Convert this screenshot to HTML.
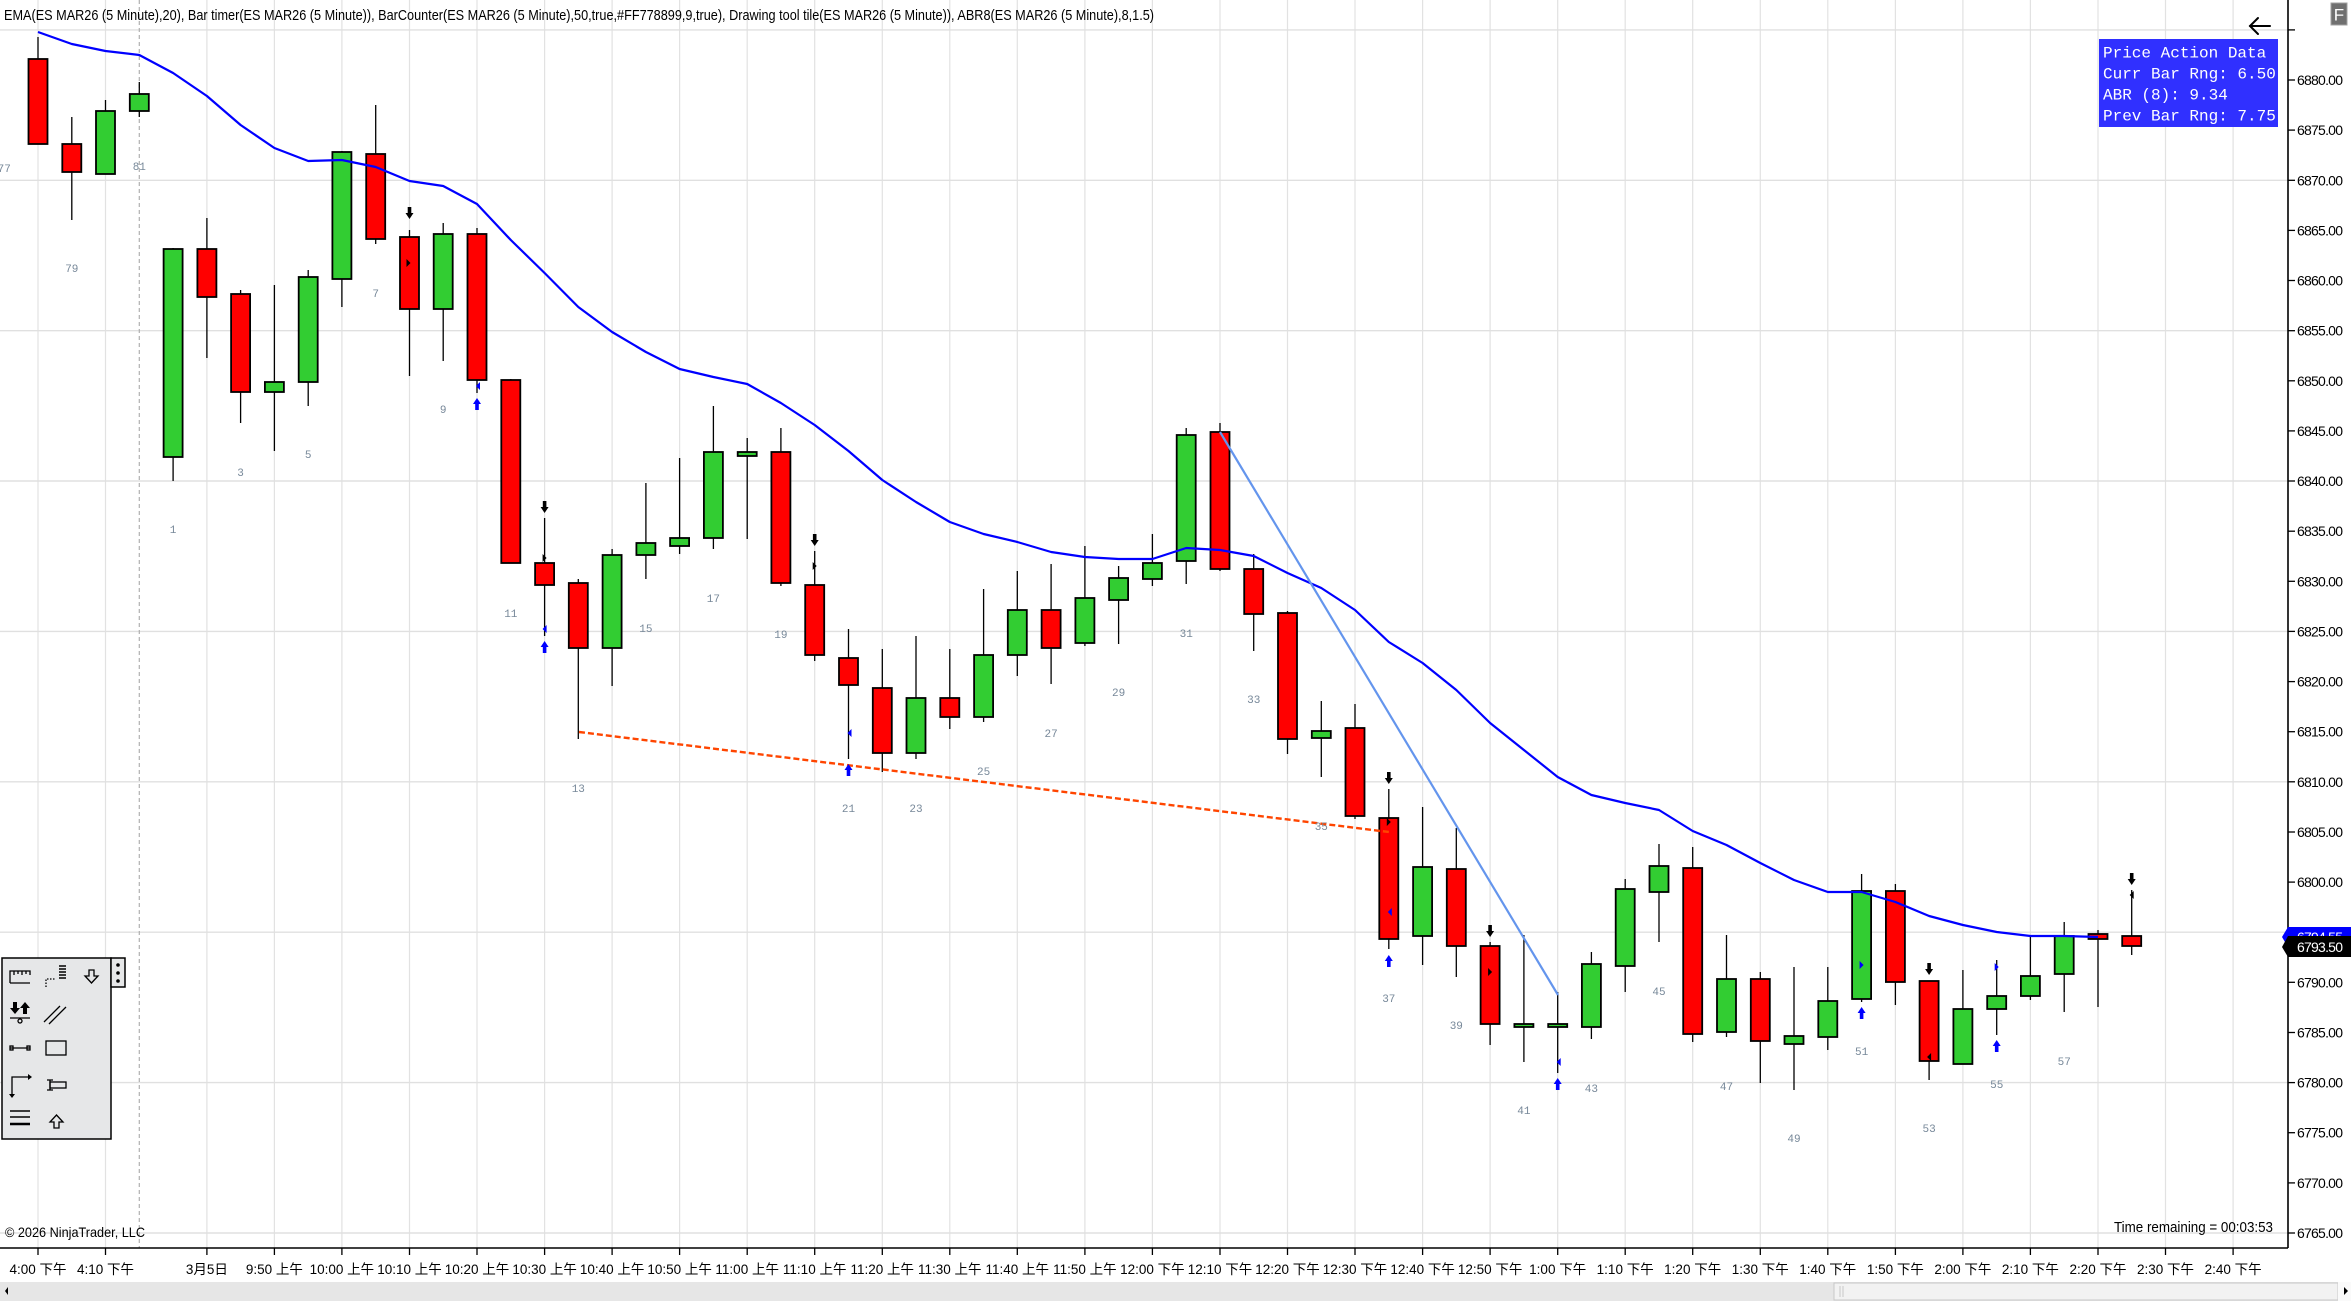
<!DOCTYPE html>
<html><head><meta charset="utf-8"><style>
html,body{margin:0;padding:0;background:#fff;}
svg{display:block;}
.t{font-family:"Liberation Sans","Noto Sans CJK SC",sans-serif;}
.m{font-family:"Liberation Mono",monospace;}
</style></head><body>
<svg width="2351" height="1301" viewBox="0 0 2351 1301" xmlns="http://www.w3.org/2000/svg">
<rect width="2351" height="1301" fill="#fff"/>
<!-- vertical gridlines -->
<g stroke="#e2e2e2" stroke-width="1.2">
<line x1="38" y1="0" x2="38" y2="1248"/><line x1="105.5" y1="0" x2="105.5" y2="1248"/>
<line x1="206.9" y1="0" x2="206.9" y2="1248"/><line x1="274.4" y1="0" x2="274.4" y2="1248"/>
<line x1="341.9" y1="0" x2="341.9" y2="1248"/><line x1="409.5" y1="0" x2="409.5" y2="1248"/>
<line x1="477" y1="0" x2="477" y2="1248"/><line x1="544.6" y1="0" x2="544.6" y2="1248"/>
<line x1="612.1" y1="0" x2="612.1" y2="1248"/><line x1="679.6" y1="0" x2="679.6" y2="1248"/>
<line x1="747.2" y1="0" x2="747.2" y2="1248"/><line x1="814.7" y1="0" x2="814.7" y2="1248"/>
<line x1="882.3" y1="0" x2="882.3" y2="1248"/><line x1="949.8" y1="0" x2="949.8" y2="1248"/>
<line x1="1017.3" y1="0" x2="1017.3" y2="1248"/><line x1="1084.9" y1="0" x2="1084.9" y2="1248"/>
<line x1="1152.4" y1="0" x2="1152.4" y2="1248"/><line x1="1220" y1="0" x2="1220" y2="1248"/>
<line x1="1287.5" y1="0" x2="1287.5" y2="1248"/><line x1="1355" y1="0" x2="1355" y2="1248"/>
<line x1="1422.6" y1="0" x2="1422.6" y2="1248"/><line x1="1490.1" y1="0" x2="1490.1" y2="1248"/>
<line x1="1557.7" y1="0" x2="1557.7" y2="1248"/><line x1="1625.2" y1="0" x2="1625.2" y2="1248"/>
<line x1="1692.7" y1="0" x2="1692.7" y2="1248"/><line x1="1760.3" y1="0" x2="1760.3" y2="1248"/>
<line x1="1827.8" y1="0" x2="1827.8" y2="1248"/><line x1="1895.4" y1="0" x2="1895.4" y2="1248"/>
<line x1="1962.9" y1="0" x2="1962.9" y2="1248"/><line x1="2030.4" y1="0" x2="2030.4" y2="1248"/>
<line x1="2098" y1="0" x2="2098" y2="1248"/><line x1="2165.5" y1="0" x2="2165.5" y2="1248"/>
<line x1="2233.1" y1="0" x2="2233.1" y2="1248"/>
</g>
<!-- horizontal gridlines -->
<g stroke="#e0e0e0" stroke-width="1.4">
<line x1="0" y1="29.9" x2="2288" y2="29.9"/><line x1="0" y1="180.3" x2="2288" y2="180.3"/>
<line x1="0" y1="330.7" x2="2288" y2="330.7"/><line x1="0" y1="481" x2="2288" y2="481"/>
<line x1="0" y1="631.4" x2="2288" y2="631.4"/><line x1="0" y1="781.8" x2="2288" y2="781.8"/>
<line x1="0" y1="932.2" x2="2288" y2="932.2"/><line x1="0" y1="1082.6" x2="2288" y2="1082.6"/>
<line x1="0" y1="1233" x2="2288" y2="1233"/>
</g>
<!-- session break -->
<line x1="139.3" y1="0" x2="139.3" y2="1248" stroke="#b0b0b0" stroke-width="1.2" stroke-dasharray="4,3"/>

<!-- title -->
<text class="t" x="4" y="20" font-size="15" fill="#000" textLength="1150" lengthAdjust="spacingAndGlyphs">EMA(ES MAR26 (5 Minute),20), Bar timer(ES MAR26 (5 Minute)), BarCounter(ES MAR26 (5 Minute),50,true,#FF778899,9,true), Drawing tool tile(ES MAR26 (5 Minute)), ABR8(ES MAR26 (5 Minute),8,1.5)</text>

<!-- wicks -->
<g stroke="#000" stroke-width="1.3">
<line x1="38" y1="37" x2="38" y2="144"/>
<line x1="71.8" y1="117" x2="71.8" y2="220"/>
<line x1="105.5" y1="100" x2="105.5" y2="174"/>
<line x1="139.3" y1="82" x2="139.3" y2="117"/>
<line x1="173.1" y1="248" x2="173.1" y2="481"/>
<line x1="206.9" y1="218" x2="206.9" y2="358"/>
<line x1="240.6" y1="290" x2="240.6" y2="423"/>
<line x1="274.4" y1="285" x2="274.4" y2="451"/>
<line x1="308.2" y1="270" x2="308.2" y2="406"/>
<line x1="341.9" y1="151" x2="341.9" y2="307"/>
<line x1="375.7" y1="105" x2="375.7" y2="244"/>
<line x1="409.5" y1="230" x2="409.5" y2="376"/>
<line x1="443.2" y1="223" x2="443.2" y2="361"/>
<line x1="477" y1="228" x2="477" y2="393"/>
<line x1="510.8" y1="379" x2="510.8" y2="563"/>
<line x1="544.6" y1="518" x2="544.6" y2="636"/>
<line x1="578.3" y1="579" x2="578.3" y2="739"/>
<line x1="612.1" y1="549" x2="612.1" y2="686"/>
<line x1="645.9" y1="483" x2="645.9" y2="579"/>
<line x1="679.6" y1="458" x2="679.6" y2="554"/>
<line x1="713.4" y1="406" x2="713.4" y2="549"/>
<line x1="747.2" y1="438" x2="747.2" y2="539"/>
<line x1="780.9" y1="428" x2="780.9" y2="586"/>
<line x1="814.7" y1="551" x2="814.7" y2="661"/>
<line x1="848.5" y1="629" x2="848.5" y2="759"/>
<line x1="882.3" y1="649" x2="882.3" y2="772"/>
<line x1="916" y1="636" x2="916" y2="759"/>
<line x1="949.8" y1="649" x2="949.8" y2="729"/>
<line x1="983.6" y1="589" x2="983.6" y2="722"/>
<line x1="1017.3" y1="571" x2="1017.3" y2="676"/>
<line x1="1051.1" y1="564" x2="1051.1" y2="684"/>
<line x1="1084.9" y1="546" x2="1084.9" y2="646"/>
<line x1="1118.6" y1="566" x2="1118.6" y2="644"/>
<line x1="1152.4" y1="534" x2="1152.4" y2="586"/>
<line x1="1186.2" y1="428" x2="1186.2" y2="584"/>
<line x1="1220" y1="423" x2="1220" y2="571"/>
<line x1="1253.7" y1="554" x2="1253.7" y2="651"/>
<line x1="1287.5" y1="611" x2="1287.5" y2="754"/>
<line x1="1321.3" y1="701" x2="1321.3" y2="777"/>
<line x1="1355" y1="704" x2="1355" y2="819"/>
<line x1="1388.8" y1="789" x2="1388.8" y2="949"/>
<line x1="1422.6" y1="807" x2="1422.6" y2="965"/>
<line x1="1456.3" y1="828" x2="1456.3" y2="977"/>
<line x1="1490.1" y1="942" x2="1490.1" y2="1045"/>
<line x1="1523.9" y1="935" x2="1523.9" y2="1062"/>
<line x1="1557.7" y1="992" x2="1557.7" y2="1073"/>
<line x1="1591.4" y1="952" x2="1591.4" y2="1039"/>
<line x1="1625.2" y1="879" x2="1625.2" y2="992"/>
<line x1="1659" y1="844" x2="1659" y2="942"/>
<line x1="1692.7" y1="847" x2="1692.7" y2="1042"/>
<line x1="1726.5" y1="935" x2="1726.5" y2="1037"/>
<line x1="1760.3" y1="972" x2="1760.3" y2="1083"/>
<line x1="1794" y1="967" x2="1794" y2="1090"/>
<line x1="1827.8" y1="967" x2="1827.8" y2="1050"/>
<line x1="1861.6" y1="874" x2="1861.6" y2="1002"/>
<line x1="1895.4" y1="884" x2="1895.4" y2="1005"/>
<line x1="1929.1" y1="981" x2="1929.1" y2="1080"/>
<line x1="1962.9" y1="970" x2="1962.9" y2="1064"/>
<line x1="1996.7" y1="960" x2="1996.7" y2="1035"/>
<line x1="2030.4" y1="936" x2="2030.4" y2="1000"/>
<line x1="2064.2" y1="922" x2="2064.2" y2="1012"/>
<line x1="2098" y1="930" x2="2098" y2="1007"/>
<line x1="2131.7" y1="890" x2="2131.7" y2="955"/>
</g>
<!-- bodies -->
<g stroke="#000" stroke-width="1.8">
<rect x="28.5" y="59" width="19" height="85" fill="#ff0000"/>
<rect x="62.3" y="144" width="19" height="28" fill="#ff0000"/>
<rect x="96" y="111" width="19" height="63" fill="#32cd32"/>
<rect x="129.8" y="94" width="19" height="17" fill="#32cd32"/>
<rect x="163.6" y="249" width="19" height="208" fill="#32cd32"/>
<rect x="197.4" y="249" width="19" height="48" fill="#ff0000"/>
<rect x="231.1" y="294" width="19" height="98" fill="#ff0000"/>
<rect x="264.9" y="382" width="19" height="10" fill="#32cd32"/>
<rect x="298.7" y="277" width="19" height="105" fill="#32cd32"/>
<rect x="332.4" y="152" width="19" height="127" fill="#32cd32"/>
<rect x="366.2" y="154" width="19" height="85" fill="#ff0000"/>
<rect x="400" y="237" width="19" height="72" fill="#ff0000"/>
<rect x="433.7" y="234" width="19" height="75" fill="#32cd32"/>
<rect x="467.5" y="234" width="19" height="146" fill="#ff0000"/>
<rect x="501.3" y="380" width="19" height="183" fill="#ff0000"/>
<rect x="535.1" y="563" width="19" height="22" fill="#ff0000"/>
<rect x="568.8" y="583" width="19" height="65" fill="#ff0000"/>
<rect x="602.6" y="555" width="19" height="93" fill="#32cd32"/>
<rect x="636.4" y="543" width="19" height="12" fill="#32cd32"/>
<rect x="670.1" y="538" width="19" height="8" fill="#32cd32"/>
<rect x="703.9" y="452" width="19" height="86" fill="#32cd32"/>
<rect x="737.7" y="452" width="19" height="4" fill="#32cd32"/>
<rect x="771.4" y="452" width="19" height="131" fill="#ff0000"/>
<rect x="805.2" y="585" width="19" height="70" fill="#ff0000"/>
<rect x="839" y="658" width="19" height="27" fill="#ff0000"/>
<rect x="872.8" y="688" width="19" height="65" fill="#ff0000"/>
<rect x="906.5" y="698" width="19" height="55" fill="#32cd32"/>
<rect x="940.3" y="698" width="19" height="19" fill="#ff0000"/>
<rect x="974.1" y="655" width="19" height="62" fill="#32cd32"/>
<rect x="1007.8" y="610" width="19" height="45" fill="#32cd32"/>
<rect x="1041.6" y="610" width="19" height="38" fill="#ff0000"/>
<rect x="1075.4" y="598" width="19" height="45" fill="#32cd32"/>
<rect x="1109.1" y="578" width="19" height="22" fill="#32cd32"/>
<rect x="1142.9" y="563" width="19" height="16" fill="#32cd32"/>
<rect x="1176.7" y="435" width="19" height="126" fill="#32cd32"/>
<rect x="1210.5" y="432" width="19" height="137" fill="#ff0000"/>
<rect x="1244.2" y="569" width="19" height="45" fill="#ff0000"/>
<rect x="1278" y="613" width="19" height="126" fill="#ff0000"/>
<rect x="1311.8" y="731" width="19" height="7" fill="#32cd32"/>
<rect x="1345.5" y="728" width="19" height="88" fill="#ff0000"/>
<rect x="1379.3" y="818" width="19" height="121" fill="#ff0000"/>
<rect x="1413.1" y="867" width="19" height="69" fill="#32cd32"/>
<rect x="1446.8" y="869" width="19" height="77" fill="#ff0000"/>
<rect x="1480.6" y="946" width="19" height="78" fill="#ff0000"/>
<rect x="1514.4" y="1024" width="19" height="3" fill="#32cd32"/>
<rect x="1548.2" y="1024" width="19" height="3" fill="#32cd32"/>
<rect x="1581.9" y="964" width="19" height="63" fill="#32cd32"/>
<rect x="1615.7" y="889" width="19" height="77" fill="#32cd32"/>
<rect x="1649.5" y="866" width="19" height="26" fill="#32cd32"/>
<rect x="1683.2" y="868" width="19" height="166" fill="#ff0000"/>
<rect x="1717" y="979" width="19" height="53" fill="#32cd32"/>
<rect x="1750.8" y="979" width="19" height="62" fill="#ff0000"/>
<rect x="1784.5" y="1036" width="19" height="8" fill="#32cd32"/>
<rect x="1818.3" y="1001" width="19" height="36" fill="#32cd32"/>
<rect x="1852.1" y="891" width="19" height="108" fill="#32cd32"/>
<rect x="1885.9" y="891" width="19" height="91" fill="#ff0000"/>
<rect x="1919.6" y="981" width="19" height="80" fill="#ff0000"/>
<rect x="1953.4" y="1009" width="19" height="55" fill="#32cd32"/>
<rect x="1987.2" y="996" width="19" height="13" fill="#32cd32"/>
<rect x="2020.9" y="976" width="19" height="20" fill="#32cd32"/>
<rect x="2054.7" y="936" width="19" height="38" fill="#32cd32"/>
<rect x="2088.5" y="934" width="19" height="5" fill="#ff0000"/>
<rect x="2122.2" y="936" width="19" height="10" fill="#ff0000"/>
</g>

<!-- EMA -->
<polyline fill="none" stroke="#0000ff" stroke-width="2.2" stroke-linejoin="round" points="38,32 71.8,44 105.5,51 139.3,55 173.1,73 206.9,96 240.6,125 274.4,148 308.2,161 341.9,160 375.7,167 409.5,181 443.2,186 477,204 510.8,240 544.6,273 578.3,307 612.1,332 645.9,352 679.6,369 713.4,377 747.2,384 780.9,403 814.7,425 848.5,451 882.3,480 916,502 949.8,522 983.6,534 1017.3,542 1051.1,552 1084.9,557 1118.6,559 1152.4,559 1186.2,548 1220,550 1253.7,556 1287.5,573 1321.3,588 1355,610 1388.8,642 1422.6,663 1456.3,690 1490.1,723 1523.9,750 1557.7,777 1591.4,795 1625.2,803 1659,810 1692.7,831 1726.5,845 1760.3,863 1794,880 1827.8,892 1861.6,892 1895.4,902 1929.1,916 1962.9,925 1996.7,932 2030.4,936 2064.2,936 2098,937"/>

<!-- drawings -->
<line x1="579" y1="732" x2="1389" y2="832" stroke="#ff4500" stroke-width="2.4" stroke-dasharray="6,3"/>
<line x1="1220" y1="432" x2="1558" y2="995" stroke="#6495ed" stroke-width="2.2"/>

<!-- black down arrows -->
<g fill="#000">
<path d="M407.7 207h3.6v6h2.2l-4 6l-4-6h2.2z"/>
<path d="M542.8 501h3.6v6h2.2l-4 6l-4-6h2.2z"/>
<path d="M812.9 534h3.6v6h2.2l-4 6l-4-6h2.2z"/>
<path d="M1387 772h3.6v6h2.2l-4 6l-4-6h2.2z"/>
<path d="M1488.3 925h3.6v6h2.2l-4 6l-4-6h2.2z"/>
<path d="M1927.3 963h3.6v6h2.2l-4 6l-4-6h2.2z"/>
<path d="M2129.9 873h3.6v6h2.2l-4 6l-4-6h2.2z"/>
<!-- small black triangles -->
<path d="M406.5 259l4 4l-4 4z"/>
<path d="M542.6 554l4 4l-4 4z"/>
<path d="M812.7 562l4 4l-4 4z"/>
<path d="M1386.8 818l4 4l-4 4z"/>
<path d="M1488.1 968l4 4l-4 4z"/>
<path d="M1931.1 1053l-4 4l4 4z"/>
<path d="M2133.7 891l-4 4l4 4z"/>
</g>
<!-- blue up arrows -->
<g fill="#0000ff">
<path d="M475.2 410h3.6v-6h2.2l-4-6l-4 6h2.2z"/>
<path d="M542.8 653h3.6v-6h2.2l-4-6l-4 6h2.2z"/>
<path d="M846.7 776h3.6v-6h2.2l-4-6l-4 6h2.2z"/>
<path d="M1387 967h3.6v-6h2.2l-4-6l-4 6h2.2z"/>
<path d="M1555.9 1090h3.6v-6h2.2l-4-6l-4 6h2.2z"/>
<path d="M1859.8 1019h3.6v-6h2.2l-4-6l-4 6h2.2z"/>
<path d="M1994.9 1052h3.6v-6h2.2l-4-6l-4 6h2.2z"/>
<!-- small blue triangles -->
<path d="M480 382l-4 4l4 4z"/>
<path d="M546.6 625l-4 4l4 4z"/>
<path d="M851.5 729l-4 4l4 4z"/>
<path d="M1391.8 908l-4 4l4 4z"/>
<path d="M1560.7 1058l-4 4l4 4z"/>
<path d="M1859.6 961l4 4l-4 4z"/>
<path d="M1994.7 963l4 4l-4 4z"/>
</g>

<!-- bar counter labels -->
<g class="m" font-size="11" fill="#778899" text-anchor="middle">
<text x="4.2" y="172">77</text>
<text x="71.8" y="272">79</text>
<text x="139.3" y="170">81</text>
<text x="173.1" y="533">1</text>
<text x="240.6" y="476">3</text>
<text x="308.2" y="458">5</text>
<text x="375.7" y="297">7</text>
<text x="443.2" y="413">9</text>
<text x="510.8" y="617">11</text>
<text x="578.3" y="792">13</text>
<text x="645.9" y="632">15</text>
<text x="713.4" y="602">17</text>
<text x="780.9" y="638">19</text>
<text x="848.5" y="812">21</text>
<text x="916" y="812">23</text>
<text x="983.6" y="775">25</text>
<text x="1051.1" y="737">27</text>
<text x="1118.6" y="696">29</text>
<text x="1186.2" y="637">31</text>
<text x="1253.7" y="703">33</text>
<text x="1321.3" y="830">35</text>
<text x="1388.8" y="1002">37</text>
<text x="1456.3" y="1029">39</text>
<text x="1523.9" y="1114">41</text>
<text x="1591.4" y="1092">43</text>
<text x="1659" y="995">45</text>
<text x="1726.5" y="1090">47</text>
<text x="1794" y="1142">49</text>
<text x="1861.6" y="1055">51</text>
<text x="1929.1" y="1132">53</text>
<text x="1996.7" y="1088">55</text>
<text x="2064.2" y="1065">57</text>
</g>

<!-- Price action box -->
<rect x="2099" y="39" width="179" height="88" fill="#3030ff"/>
<g class="m" font-size="16" fill="#fff">
<text x="2103" y="57.5">Price Action Data</text>
<text x="2103" y="78.5">Curr Bar Rng: 6.50</text>
<text x="2103" y="99.5">ABR (8): 9.34</text>
<text x="2103" y="120.5">Prev Bar Rng: 7.75</text>
</g>
<!-- back arrow -->
<g stroke="#000" stroke-width="2" fill="none" stroke-linecap="round">
<line x1="2250" y1="26" x2="2270" y2="26"/>
<polyline points="2258,18 2250,26 2258,34"/>
</g>

<!-- toolbar -->
<rect x="2" y="958" width="109" height="181" fill="#e6e7e8" stroke="#000" stroke-width="1.5"/>
<rect x="111" y="958" width="14" height="29" fill="#e6e7e8" stroke="#000" stroke-width="1.5"/>
<g fill="#000"><circle cx="118" cy="965" r="1.8"/><circle cx="118" cy="973" r="1.8"/><circle cx="118" cy="981" r="1.8"/></g>
<g stroke="#000" stroke-width="1.3" fill="none">
<path d="M10 983V971H30V975M14 971v4M18 971v3M22 971v4M26 971v3M10 983H30"/>
<path d="M46 987v-8h10" stroke-dasharray="1.5,1.5"/>
<path d="M59 969h7M59 972h7M59 975h7M59 978h7M59 966h7" stroke-width="1.6"/>
<path d="M89 970h5v6h4l-6.5 7l-6.5-7h4z"/>
<path d="M10 1018H30"/>
<circle cx="20" cy="1021" r="2"/>
<path d="M44 1022L60 1006M49 1024L66 1007"/>
<path d="M10 1048H30"/>
<rect x="10" y="1046" width="3" height="4"/><rect x="27" y="1046" width="3" height="4"/>
<rect x="46" y="1041" width="20" height="14"/>
<path d="M12 1094V1077H29"/>
<rect x="50" y="1082" width="16" height="6"/>
<path d="M50 1080v10M47 1080h6M47 1090h6"/>
<path d="M10 1111H30M10 1117H30" stroke-width="1.5"/>
<path d="M10 1124H30" stroke-width="2.5"/>
<path d="M54 1128v-6h-4l6.5-7l6.5 7h-4v6z"/>
</g>
<g fill="#000">
<path d="M13 1002h4v6h3l-5 6l-5-6h3z"/>
<path d="M23 1014h4v-6h3l-5-6l-5 6h3z"/>
<path d="M9 1094l3 4l3-4z"/>
<path d="M28 1074l4 3l-4 3z"/>
</g>

<!-- axes -->
<line x1="0" y1="1248" x2="2288" y2="1248" stroke="#000" stroke-width="1.6"/>
<line x1="2288" y1="0" x2="2288" y2="1248" stroke="#000" stroke-width="1.6"/>
<g stroke="#000" stroke-width="1.3">
<line x1="38" y1="1248" x2="38" y2="1255"/><line x1="105.5" y1="1248" x2="105.5" y2="1255"/>
<line x1="206.9" y1="1248" x2="206.9" y2="1255"/><line x1="274.4" y1="1248" x2="274.4" y2="1255"/>
<line x1="341.9" y1="1248" x2="341.9" y2="1255"/><line x1="409.5" y1="1248" x2="409.5" y2="1255"/>
<line x1="477" y1="1248" x2="477" y2="1255"/><line x1="544.6" y1="1248" x2="544.6" y2="1255"/>
<line x1="612.1" y1="1248" x2="612.1" y2="1255"/><line x1="679.6" y1="1248" x2="679.6" y2="1255"/>
<line x1="747.2" y1="1248" x2="747.2" y2="1255"/><line x1="814.7" y1="1248" x2="814.7" y2="1255"/>
<line x1="882.3" y1="1248" x2="882.3" y2="1255"/><line x1="949.8" y1="1248" x2="949.8" y2="1255"/>
<line x1="1017.3" y1="1248" x2="1017.3" y2="1255"/><line x1="1084.9" y1="1248" x2="1084.9" y2="1255"/>
<line x1="1152.4" y1="1248" x2="1152.4" y2="1255"/><line x1="1220" y1="1248" x2="1220" y2="1255"/>
<line x1="1287.5" y1="1248" x2="1287.5" y2="1255"/><line x1="1355" y1="1248" x2="1355" y2="1255"/>
<line x1="1422.6" y1="1248" x2="1422.6" y2="1255"/><line x1="1490.1" y1="1248" x2="1490.1" y2="1255"/>
<line x1="1557.7" y1="1248" x2="1557.7" y2="1255"/><line x1="1625.2" y1="1248" x2="1625.2" y2="1255"/>
<line x1="1692.7" y1="1248" x2="1692.7" y2="1255"/><line x1="1760.3" y1="1248" x2="1760.3" y2="1255"/>
<line x1="1827.8" y1="1248" x2="1827.8" y2="1255"/><line x1="1895.4" y1="1248" x2="1895.4" y2="1255"/>
<line x1="1962.9" y1="1248" x2="1962.9" y2="1255"/><line x1="2030.4" y1="1248" x2="2030.4" y2="1255"/>
<line x1="2098" y1="1248" x2="2098" y2="1255"/><line x1="2165.5" y1="1248" x2="2165.5" y2="1255"/>
<line x1="2233.1" y1="1248" x2="2233.1" y2="1255"/>
<!-- y ticks -->
<line x1="2288" y1="29.9" x2="2295" y2="29.9"/><line x1="2288" y1="80" x2="2295" y2="80"/>
<line x1="2288" y1="130.1" x2="2295" y2="130.1"/><line x1="2288" y1="180.3" x2="2295" y2="180.3"/>
<line x1="2288" y1="230.4" x2="2295" y2="230.4"/><line x1="2288" y1="280.5" x2="2295" y2="280.5"/>
<line x1="2288" y1="330.7" x2="2295" y2="330.7"/><line x1="2288" y1="380.8" x2="2295" y2="380.8"/>
<line x1="2288" y1="430.9" x2="2295" y2="430.9"/><line x1="2288" y1="481" x2="2295" y2="481"/>
<line x1="2288" y1="531.2" x2="2295" y2="531.2"/><line x1="2288" y1="581.3" x2="2295" y2="581.3"/>
<line x1="2288" y1="631.4" x2="2295" y2="631.4"/><line x1="2288" y1="681.6" x2="2295" y2="681.6"/>
<line x1="2288" y1="731.7" x2="2295" y2="731.7"/><line x1="2288" y1="781.8" x2="2295" y2="781.8"/>
<line x1="2288" y1="832" x2="2295" y2="832"/><line x1="2288" y1="882.1" x2="2295" y2="882.1"/>
<line x1="2288" y1="982.3" x2="2295" y2="982.3"/><line x1="2288" y1="1032.5" x2="2295" y2="1032.5"/>
<line x1="2288" y1="1082.6" x2="2295" y2="1082.6"/><line x1="2288" y1="1132.7" x2="2295" y2="1132.7"/>
<line x1="2288" y1="1182.9" x2="2295" y2="1182.9"/><line x1="2288" y1="1233" x2="2295" y2="1233"/>
</g>
<!-- y labels -->
<g class="t" font-size="14" fill="#000">
<text x="2297" y="85" textLength="46">6880.00</text>
<text x="2297" y="135.1" textLength="46">6875.00</text>
<text x="2297" y="185.3" textLength="46">6870.00</text>
<text x="2297" y="235.4" textLength="46">6865.00</text>
<text x="2297" y="285.5" textLength="46">6860.00</text>
<text x="2297" y="335.7" textLength="46">6855.00</text>
<text x="2297" y="385.8" textLength="46">6850.00</text>
<text x="2297" y="435.9" textLength="46">6845.00</text>
<text x="2297" y="486" textLength="46">6840.00</text>
<text x="2297" y="536.2" textLength="46">6835.00</text>
<text x="2297" y="586.3" textLength="46">6830.00</text>
<text x="2297" y="636.4" textLength="46">6825.00</text>
<text x="2297" y="686.6" textLength="46">6820.00</text>
<text x="2297" y="736.7" textLength="46">6815.00</text>
<text x="2297" y="786.8" textLength="46">6810.00</text>
<text x="2297" y="837" textLength="46">6805.00</text>
<text x="2297" y="887.1" textLength="46">6800.00</text>
<text x="2297" y="987.3" textLength="46">6790.00</text>
<text x="2297" y="1037.5" textLength="46">6785.00</text>
<text x="2297" y="1087.6" textLength="46">6780.00</text>
<text x="2297" y="1137.7" textLength="46">6775.00</text>
<text x="2297" y="1187.9" textLength="46">6770.00</text>
<text x="2297" y="1238" textLength="46">6765.00</text>
</g>
<!-- price tags -->
<path d="M2282 937L2288 927H2351V947H2288Z" fill="#0000ff"/>
<text class="t" x="2297" y="942" font-size="14" fill="#fff" textLength="46">6794.55</text>
<path d="M2282 947L2288 936H2351V957H2288Z" fill="#000"/>
<text class="t" x="2297" y="952" font-size="14" fill="#fff" textLength="46">6793.50</text>

<!-- F button -->
<rect x="2331" y="3" width="16" height="22" fill="#707070" stroke="#a0a0a0" stroke-width="1"/>
<text class="t" x="2339" y="20.5" font-size="17" fill="#fff" text-anchor="middle">F</text>

<!-- time labels -->
<g class="t" font-size="13.5" fill="#000" text-anchor="middle">
<text x="38" y="1274">4:00 下午</text>
<text x="105.5" y="1274">4:10 下午</text>
<text x="206.9" y="1274">3月5日</text>
<text x="274.4" y="1274">9:50 上午</text>
<text x="341.9" y="1274">10:00 上午</text>
<text x="409.5" y="1274">10:10 上午</text>
<text x="477" y="1274">10:20 上午</text>
<text x="544.6" y="1274">10:30 上午</text>
<text x="612.1" y="1274">10:40 上午</text>
<text x="679.6" y="1274">10:50 上午</text>
<text x="747.2" y="1274">11:00 上午</text>
<text x="814.7" y="1274">11:10 上午</text>
<text x="882.3" y="1274">11:20 上午</text>
<text x="949.8" y="1274">11:30 上午</text>
<text x="1017.3" y="1274">11:40 上午</text>
<text x="1084.9" y="1274">11:50 上午</text>
<text x="1152.4" y="1274">12:00 下午</text>
<text x="1220" y="1274">12:10 下午</text>
<text x="1287.5" y="1274">12:20 下午</text>
<text x="1355" y="1274">12:30 下午</text>
<text x="1422.6" y="1274">12:40 下午</text>
<text x="1490.1" y="1274">12:50 下午</text>
<text x="1557.7" y="1274">1:00 下午</text>
<text x="1625.2" y="1274">1:10 下午</text>
<text x="1692.7" y="1274">1:20 下午</text>
<text x="1760.3" y="1274">1:30 下午</text>
<text x="1827.8" y="1274">1:40 下午</text>
<text x="1895.4" y="1274">1:50 下午</text>
<text x="1962.9" y="1274">2:00 下午</text>
<text x="2030.4" y="1274">2:10 下午</text>
<text x="2098" y="1274">2:20 下午</text>
<text x="2165.5" y="1274">2:30 下午</text>
<text x="2233.1" y="1274">2:40 下午</text>
</g>

<!-- footer texts -->
<text class="t" x="5" y="1237" font-size="14" fill="#000" textLength="140" lengthAdjust="spacingAndGlyphs">© 2026 NinjaTrader, LLC</text>
<text class="t" x="2114" y="1232" font-size="15" fill="#000" textLength="159" lengthAdjust="spacingAndGlyphs">Time remaining = 00:03:53</text>

<!-- scrollbar -->
<rect x="0" y="1282" width="2351" height="19" fill="#e6e6e6"/>
<rect x="1834" y="1283" width="504" height="17" fill="#f2f2f2" stroke="#c8c8c8" stroke-width="1"/>
<line x1="1840" y1="1286" x2="1840" y2="1297" stroke="#c8c8c8"/>
<line x1="1843" y1="1286" x2="1843" y2="1297" stroke="#c8c8c8"/>
<rect x="2338" y="1282" width="13" height="19" fill="#fafafa"/>
<path d="M2344 1287l4 4l-4 4z" fill="#000"/>
<path d="M8 1287l-3 4l3 4z" fill="#000"/>
</svg>
</body></html>
